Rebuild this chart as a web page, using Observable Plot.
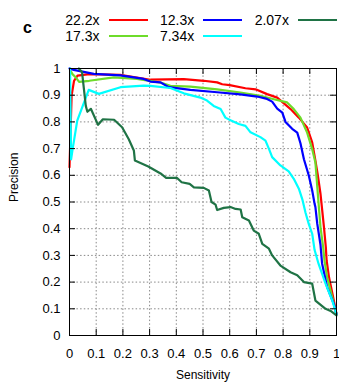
<!DOCTYPE html>
<html><head><meta charset="utf-8">
<script src="https://cdn.jsdelivr.net/npm/d3@7"></script>
<script src="https://cdn.jsdelivr.net/npm/@observablehq/plot@0.6"></script>
<style>
body{margin:0;background:#fff;font-family:"Liberation Sans",Arial,sans-serif;}
#wrap{position:relative;width:339px;height:385px;overflow:hidden;}
#legend{position:relative;width:339px;height:50px;}
.lab{position:absolute;font-size:14px;line-height:14px;text-align:right;width:60px;color:#000;}
.sw{position:absolute;height:2px;width:39px;}
#panel{position:absolute;left:23px;top:20px;font-size:16px;font-weight:bold;line-height:16px;}
</style></head><body>
<div id="wrap"><div id="legend"><div id="panel">c</div></div><div id="chart"></div></div>
<script>
const seriesNames = ["22.2x", "17.3x", "12.3x", "7.34x", "2.07x"];
const seriesColors = ["#ff0000", "#6edc2a", "#0000ff", "#00ffff", "#1f7345"];

const sens22 = [0, 0.008, 0.017, 0.03, 0.074, 0.19, 0.303, 0.428, 0.503, 0.553, 0.572, 0.6, 0.659, 0.697, 0.74, 0.778, 0.828, 0.859, 0.89, 0.909, 0.921, 0.93, 0.94, 0.953, 0.96, 0.963, 0.972, 0.99, 1];
const prec22 = [0.63, 0.9, 0.954, 0.973, 0.979, 0.976, 0.958, 0.96, 0.954, 0.948, 0.941, 0.938, 0.926, 0.922, 0.904, 0.891, 0.848, 0.816, 0.779, 0.723, 0.655, 0.6, 0.531, 0.406, 0.331, 0.281, 0.218, 0.131, 0.08];

const sens17 = [0.005, 0.011, 0.024, 0.036, 0.074, 0.166, 0.253, 0.341, 0.378, 0.453, 0.553, 0.64, 0.715, 0.765, 0.815, 0.84, 0.865, 0.89, 0.909, 0.921, 0.93, 0.94, 0.95, 0.955, 0.965, 0.987, 1];
const prec17 = [0.99, 0.979, 0.966, 0.95, 0.954, 0.967, 0.961, 0.947, 0.935, 0.932, 0.922, 0.91, 0.898, 0.885, 0.873, 0.848, 0.816, 0.76, 0.698, 0.648, 0.531, 0.406, 0.331, 0.281, 0.218, 0.131, 0.08];

const sens12 = [0, 0.016, 0.091, 0.191, 0.278, 0.303, 0.341, 0.372, 0.453, 0.553, 0.64, 0.703, 0.74, 0.759, 0.778, 0.797, 0.809, 0.834, 0.853, 0.865, 0.878, 0.896, 0.909, 0.918, 0.921, 0.928, 0.94, 0.946, 0.965, 0.99, 1];
const prec12 = [1, 0.995, 0.98, 0.974, 0.961, 0.951, 0.948, 0.93, 0.92, 0.911, 0.903, 0.895, 0.886, 0.876, 0.85, 0.835, 0.8, 0.774, 0.76, 0.72, 0.66, 0.6, 0.543, 0.493, 0.481, 0.418, 0.34, 0.27, 0.181, 0.118, 0.08];

const sens7 = [0.002, 0.006, 0.012, 0.029, 0.072, 0.11, 0.191, 0.278, 0.303, 0.378, 0.428, 0.49, 0.515, 0.54, 0.566, 0.584, 0.603, 0.634, 0.659, 0.678, 0.715, 0.734, 0.747, 0.759, 0.79, 0.821, 0.84, 0.859, 0.872, 0.884, 0.896, 0.909, 0.918, 0.933, 0.959, 0.984, 1];
const prec7 = [1, 0.66, 0.7, 0.805, 0.92, 0.905, 0.93, 0.936, 0.935, 0.927, 0.907, 0.891, 0.88, 0.86, 0.848, 0.816, 0.806, 0.792, 0.785, 0.761, 0.743, 0.73, 0.699, 0.668, 0.637, 0.615, 0.587, 0.55, 0.51, 0.46, 0.418, 0.381, 0.32, 0.268, 0.194, 0.131, 0.08];

const sens2 = [0.035, 0.047, 0.061, 0.067, 0.08, 0.107, 0.125, 0.167, 0.197, 0.222, 0.241, 0.245, 0.295, 0.341, 0.362, 0.403, 0.42, 0.45, 0.466, 0.503, 0.522, 0.532, 0.547, 0.553, 0.578, 0.603, 0.622, 0.641, 0.647, 0.672, 0.69, 0.709, 0.722, 0.747, 0.759, 0.79, 0.828, 0.853, 0.878, 0.909, 0.921, 0.959, 0.978, 1];
const prec2 = [1, 0.986, 0.86, 0.838, 0.849, 0.789, 0.81, 0.808, 0.78, 0.735, 0.693, 0.655, 0.633, 0.607, 0.59, 0.59, 0.574, 0.568, 0.555, 0.553, 0.543, 0.5, 0.49, 0.47, 0.478, 0.481, 0.474, 0.472, 0.443, 0.431, 0.393, 0.381, 0.343, 0.325, 0.3, 0.262, 0.237, 0.226, 0.2, 0.194, 0.131, 0.1, 0.092, 0.075];

const axisTicks = [0, 0.1, 0.2, 0.3, 0.4, 0.5, 0.6, 0.7, 0.8, 0.9, 1];
const gridTicks = [0.1, 0.2, 0.3, 0.4, 0.5, 0.6, 0.7, 0.8, 0.9];
const xLabel = "Sensitivity";
const yLabel = "Precision";

const sensList = [sens22, sens17, sens12, sens7, sens2];
const precList = [prec22, prec17, prec12, prec7, prec2];

// legend (column-major, 2 rows)
const legend = document.getElementById("legend");
seriesNames.forEach((name, i) => {
  const col = Math.floor(i / 2), row = i % 2;
  const right = 99.5 + col * 94.7;
  const cy = 19.5 + row * 16.5;
  const t = document.createElement("div");
  t.className = "lab"; t.textContent = name;
  t.style.left = (right - 60) + "px"; t.style.top = (cy - 7) + "px";
  legend.appendChild(t);
  const s = document.createElement("div");
  s.className = "sw"; s.style.background = seriesColors[i];
  s.style.left = (right + 9) + "px"; s.style.top = (cy - 1) + "px";
  legend.appendChild(s);
});

const lineMarks = sensList.map((xs, i) =>
  Plot.line(xs.map((x, j) => ({x, y: precList[i][j]})), {x: "x", y: "y", stroke: seriesColors[i], strokeWidth: 2.2})
);

const inner = 267;
const chart = Plot.plot({
  width: 339, height: 335,
  marginTop: 18, marginRight: 3, marginBottom: 50, marginLeft: 69,
  x: {domain: [0, 1]},
  y: {domain: [0, 1]},
  style: {fontFamily: "'Liberation Sans', Arial, sans-serif", fontSize: "13px", color: "black", background: "white"},
  marks: [
    Plot.gridX(gridTicks, {stroke: "#888", strokeOpacity: 1, strokeDasharray: "1.5,2.2"}),
    Plot.gridY(gridTicks, {stroke: "#888", strokeOpacity: 1, strokeDasharray: "1.5,2.2"}),
    ...lineMarks,
    Plot.frame({stroke: "black", strokeWidth: 1}),
    Plot.tickX(axisTicks, {x: d => d, insetTop: inner - 6, stroke: "black"}),
    Plot.tickX(axisTicks, {x: d => d, insetBottom: inner - 6, stroke: "black"}),
    Plot.tickY(axisTicks, {y: d => d, insetRight: inner - 6, stroke: "black"}),
    Plot.tickY(axisTicks, {y: d => d, insetLeft: inner - 6, stroke: "black"}),
    Plot.axisX({ticks: axisTicks, tickSize: 0, tickPadding: 13, tickFormat: d => String(d), label: null}),
    Plot.axisY({ticks: axisTicks, tickSize: 0, tickPadding: 9, tickFormat: d => String(d), label: null}),
    Plot.text([xLabel], {frameAnchor: "bottom", dy: 43, fontSize: 12, text: d => d}),
    Plot.text([yLabel], {frameAnchor: "left", dx: -55, rotate: -90, fontSize: 12, text: d => d})
  ]
});
document.getElementById("chart").appendChild(chart);
</script>
</body></html>
